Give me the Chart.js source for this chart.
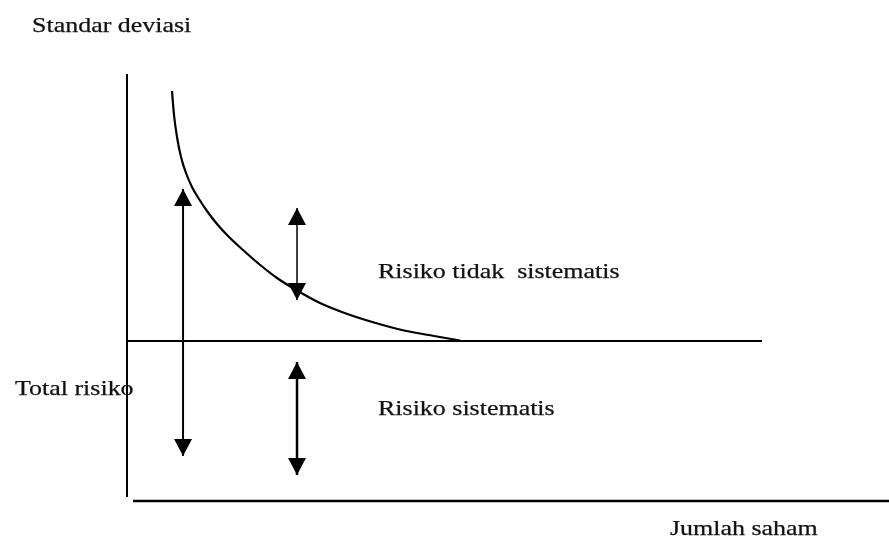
<!DOCTYPE html>
<html>
<head>
<meta charset="utf-8">
<script src="https://cdn.jsdelivr.net/npm/chart.js@4/dist/chart.umd.min.js"></script>
<style>
  html, body { margin: 0; padding: 0; background: #fff; }
  #wrap { width: 889px; height: 540px; }
</style>
</head>
<body>
<div id="wrap"><canvas id="c" width="889" height="540"></canvas></div>
<script>
// ---- Data (diagram units: x = jumlah saham, y = standar deviasi) ----
const curveX = [2.835, 2.961, 3.150, 3.402, 3.717, 4.094, 4.535, 5.039, 5.669, 6.425, 7.307, 8.315, 9.449, 10.709, 12.157, 13.795, 15.559, 17.449, 19.339, 20.976];
const curveY = [25.625, 24.125, 22.75, 21.5, 20.5, 19.625, 18.875, 18.125, 17.3125, 16.5, 15.6875, 14.8125, 13.9375, 13.156, 12.375, 11.719, 11.156, 10.656, 10.3125, 10.031];
const systematicLevel = 10;          // horizontal line: systematic risk
const baselineX = [0, 40];
const yAxisY = [26.69, 0.25];
const xAxisX = [0.38, 48];
// arrows: [x, yTop, yBottom]
const totalRiskArrow = [3.53, 19.5, 2.81];
const unsystematicArrow = [10.71, 18.31, 12.56];
const systematicArrow = [10.71, 8.69, 1.625];
const labels = {
  yTitle: 'Standar deviasi',
  xTitle: 'Jumlah saham',
  total: 'Total risiko',
  unsys: 'Risiko tidak  sistematis',
  sys: 'Risiko sistematis'
};

const pts = (xs, ys) => xs.map((x, i) => ({ x: x, y: ys[i] }));
const vline = a => [{ x: a[0], y: a[1] }, { x: a[0], y: a[2] }];

const ink = '#000';
const lineDs = (data, w, extra) => Object.assign({
  data: data, showLine: true, borderColor: ink, borderWidth: w,
  pointRadius: 0, fill: false, tension: 0
}, extra || {});

const arrowPlugin = {
  id: 'arrowHeads',
  afterDatasetsDraw(chart) {
    const ctx = chart.ctx;
    chart.data.datasets.forEach((ds, i) => {
      if (!ds.arrow) return;
      const meta = chart.getDatasetMeta(i);
      const p0 = meta.data[0], p1 = meta.data[1];
      const L = 17, W = 9;
      ctx.save();
      ctx.fillStyle = ink;
      ctx.beginPath();
      ctx.moveTo(p0.x, p0.y);
      ctx.lineTo(p0.x - W, p0.y + L);
      ctx.lineTo(p0.x + W, p0.y + L);
      ctx.closePath(); ctx.fill();
      ctx.beginPath();
      ctx.moveTo(p1.x, p1.y);
      ctx.lineTo(p1.x - W, p1.y - L);
      ctx.lineTo(p1.x + W, p1.y - L);
      ctx.closePath(); ctx.fill();
      ctx.restore();
    });
  }
};

const textPlugin = {
  id: 'diagramText',
  afterDraw(chart) {
    const ctx = chart.ctx;
    const items = [
      [labels.yTitle, 32, 32],
      [labels.unsys, 378, 278],
      [labels.sys, 378, 415],
      [labels.total, 15, 395],
      [labels.xTitle, 670, 535]
    ];
    ctx.save();
    ctx.fillStyle = '#111';
    ctx.strokeStyle = '#111';
    ctx.lineWidth = 0.25;
    ctx.font = '22px "Liberation Serif", "Times New Roman", serif';
    ctx.textBaseline = 'alphabetic';
    ctx.textAlign = 'left';
    items.forEach(([t, x, y]) => {
      ctx.save();
      ctx.translate(x, y);
      ctx.scale(1.18, 1);
      ctx.fillText(t, 0, 0);
      ctx.strokeText(t, 0, 0);
      ctx.restore();
    });
    ctx.restore();
  }
};

new Chart(document.getElementById('c'), {
  type: 'scatter',
  data: {
    datasets: [
      lineDs(pts([0, 0], yAxisY), 2),
      lineDs(pts(xAxisX, [0, 0]), 2.5),
      lineDs(pts(baselineX, [systematicLevel, systematicLevel]), 2),
      lineDs(pts(curveX, curveY), 2.2, { cubicInterpolationMode: 'monotone' }),
      lineDs(vline(totalRiskArrow), 2, { arrow: true }),
      lineDs(vline(unsystematicArrow), 1.5, { arrow: true }),
      lineDs(vline(systematicArrow), 2.5, { arrow: true })
    ]
  },
  options: {
    responsive: false,
    animation: false,
    layout: { padding: 0 },
    scales: {
      x: { type: 'linear', min: -8, max: 48, display: false },
      y: { type: 'linear', min: -2.4375, max: 31.3125, display: false }
    },
    plugins: { legend: { display: false }, tooltip: { enabled: false } },
    events: []
  },
  plugins: [arrowPlugin, textPlugin]
});
</script>
</body>
</html>
